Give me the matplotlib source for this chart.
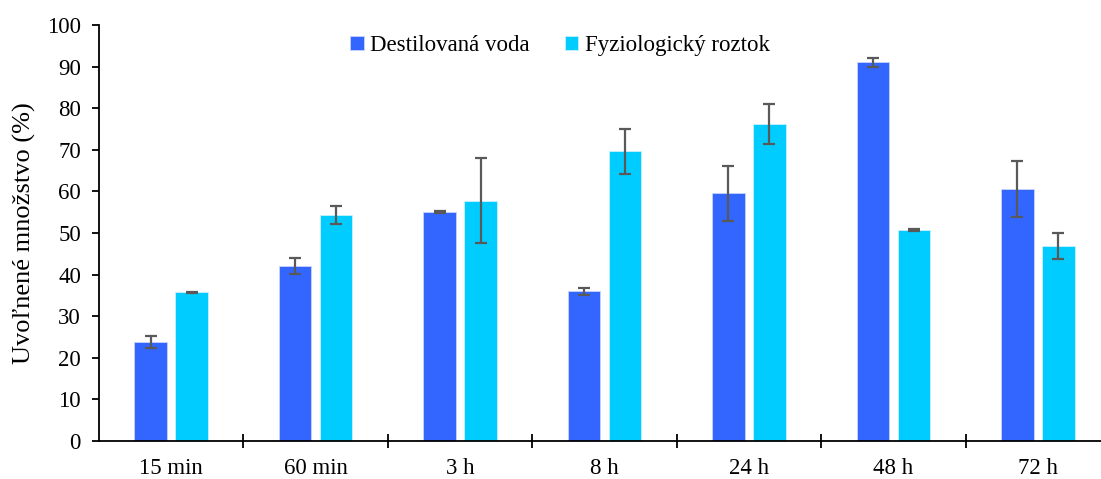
import matplotlib.pyplot as plt
import numpy as np

plt.rcParams['font.family'] = ['Liberation Serif', 'DejaVu Serif']

categories = ['15 min', '60 min', '3 h', '8 h', '24 h', '48 h', '72 h']
voda = [23.8, 42.1, 55.0, 36.0, 59.5, 91.0, 60.5]
voda_err = [1.5, 2.0, 0.3, 0.8, 6.6, 1.0, 6.7]
roztok = [35.7, 54.3, 57.8, 69.6, 76.3, 50.7, 46.8]
roztok_err = [0.2, 2.2, 10.2, 5.3, 4.8, 0.2, 3.1]

fig = plt.figure(figsize=(11.01, 4.79), dpi=100)
# axes runs slightly past the right edge, like the cropped original
ax = fig.add_axes([99 / 1101, 1 - 441 / 479, 1011 / 1101, 416 / 479])

x = np.arange(len(categories))
w = 0.225
off = 0.142
err_kw = dict(ecolor='#595959', elinewidth=1.6, capthick=1.6, capsize=4.5)
ax.bar(x - off, voda, w, yerr=voda_err, color='#3366ff', edgecolor='#c8d4ff',
       linewidth=0.6, label='Destilovaná voda', error_kw=err_kw)
ax.bar(x + off, roztok, w, yerr=roztok_err, color='#00ccff', edgecolor='#c8f0ff',
       linewidth=0.6, label='Fyziologický roztok', error_kw=err_kw)

ax.set_xlim(-0.5, 6.5)
ax.set_ylim(0, 100)
ax.set_yticks(range(0, 101, 10))
ax.set_xticks(x)
ax.set_xticklabels(categories)
ax.set_xticks(np.arange(0.5, 6.5, 1), minor=True)
ax.tick_params(axis='x', which='major', length=0, pad=12, labelsize=16.5)
ax.tick_params(axis='x', which='minor', length=10, direction='inout', width=1.3)
ax.tick_params(axis='y', length=5, width=1.3, direction='out', labelsize=16.5, pad=8)
for s in ['top', 'right']:
    ax.spines[s].set_visible(False)
ax.spines['left'].set_linewidth(1.3)
ax.spines['bottom'].set_linewidth(1.3)

ax.set_ylabel('Uvoľnené množstvo (%)', fontsize=19, labelpad=8)
ax.legend(loc='upper center', bbox_to_anchor=((560 - 99) / 1011, 1.025), ncol=2,
          frameon=False, fontsize=16.5, handlelength=0.6, handleheight=0.6,
          handletextpad=0.3, columnspacing=1.5)

plt.savefig('out.png', dpi=100)
